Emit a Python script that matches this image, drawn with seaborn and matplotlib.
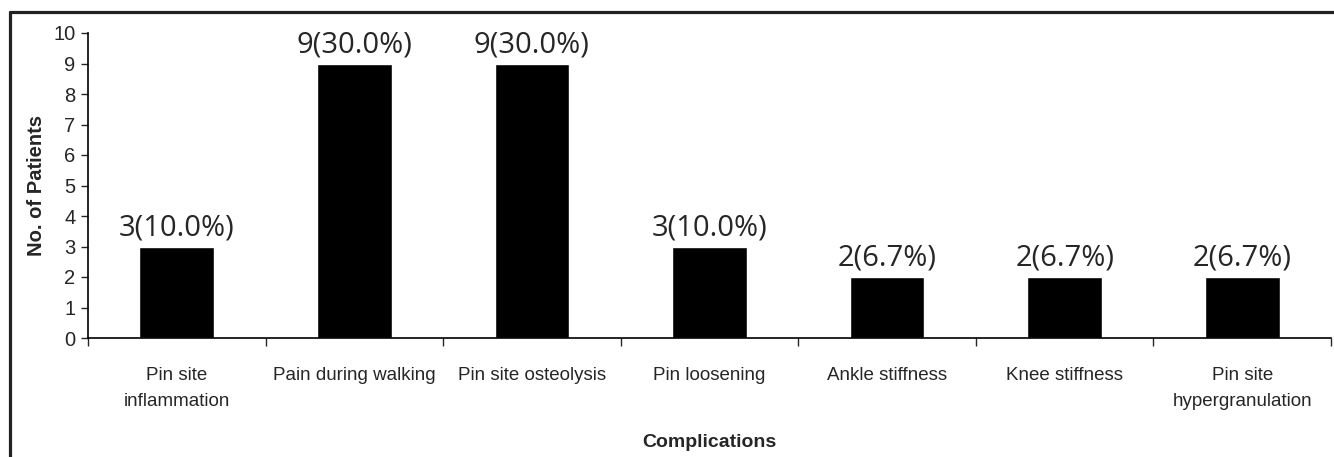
import numpy as np
import pandas as pd
import matplotlib
matplotlib.use("Agg")
import matplotlib.pyplot as plt
import seaborn as sns
from matplotlib.lines import Line2D

complications = ["Pin site\ninflammation", "Pain during walking", "Pin site osteolysis",
                 "Pin loosening", "Ankle stiffness", "Knee stiffness",
                 "Pin site\nhypergranulation"]
patients = [3, 9, 9, 3, 2, 2, 2]
percents = [10.0, 30.0, 30.0, 10.0, 6.7, 6.7, 6.7]

df = pd.DataFrame({"Complications": complications, "Patients": patients})

sns.set_style("white")
plt.rcParams["font.family"] = ["Liberation Sans", "DejaVu Sans"]

fig = plt.figure(figsize=(13.34, 4.57), dpi=100)
ax = fig.add_axes([88 / 1334, 1 - 338 / 457, (1331 - 88) / 1334, (338 - 33) / 457])

sns.barplot(data=df, x="Complications", y="Patients", color="black",
            width=0.42, saturation=1, ax=ax)

labels = [f"{n}({p:.1f}%)" for n, p in zip(patients, percents)]
ax.bar_label(ax.containers[0], labels=labels, padding=3, fontsize=21,
             family="Open Sans")

ax.set_xlim(-0.5, len(complications) - 0.5)
ax.set_ylim(0, 10)
ax.set_yticks(range(0, 11))
ax.tick_params(axis="y", labelsize=14.5, length=5, width=1, direction="out",
               left=True, pad=4)
ax.tick_params(axis="x", labelsize=13.5, length=0, pad=21)
for t in ax.get_xticklabels():
    t.set_linespacing(1.7)
ax.set_xticks(np.arange(-0.5, len(complications)), minor=True)
ax.tick_params(axis="x", which="minor", length=6, width=1, direction="out",
               bottom=True)

for s in ["top", "right"]:
    ax.spines[s].set_visible(False)
for s in ["left", "bottom"]:
    ax.spines[s].set_color("black")
    ax.spines[s].set_linewidth(1.2)

ax.set_xlabel("Complications", fontsize=14, fontweight="bold", labelpad=17)
ax.set_ylabel("No. of Patients", fontsize=14.5, fontweight="bold", labelpad=5)

# outer frame (top and left only, as in the source figure)
fig.add_artist(Line2D([9.5 / 1334, 1], [1 - 11.5 / 457, 1 - 11.5 / 457],
                      transform=fig.transFigure, color="#222222", lw=2.3))
fig.add_artist(Line2D([9.5 / 1334, 9.5 / 1334], [0, 1 - 11.5 / 457],
                      transform=fig.transFigure, color="#222222", lw=2.3))

fig.savefig("out.png", dpi=100)
